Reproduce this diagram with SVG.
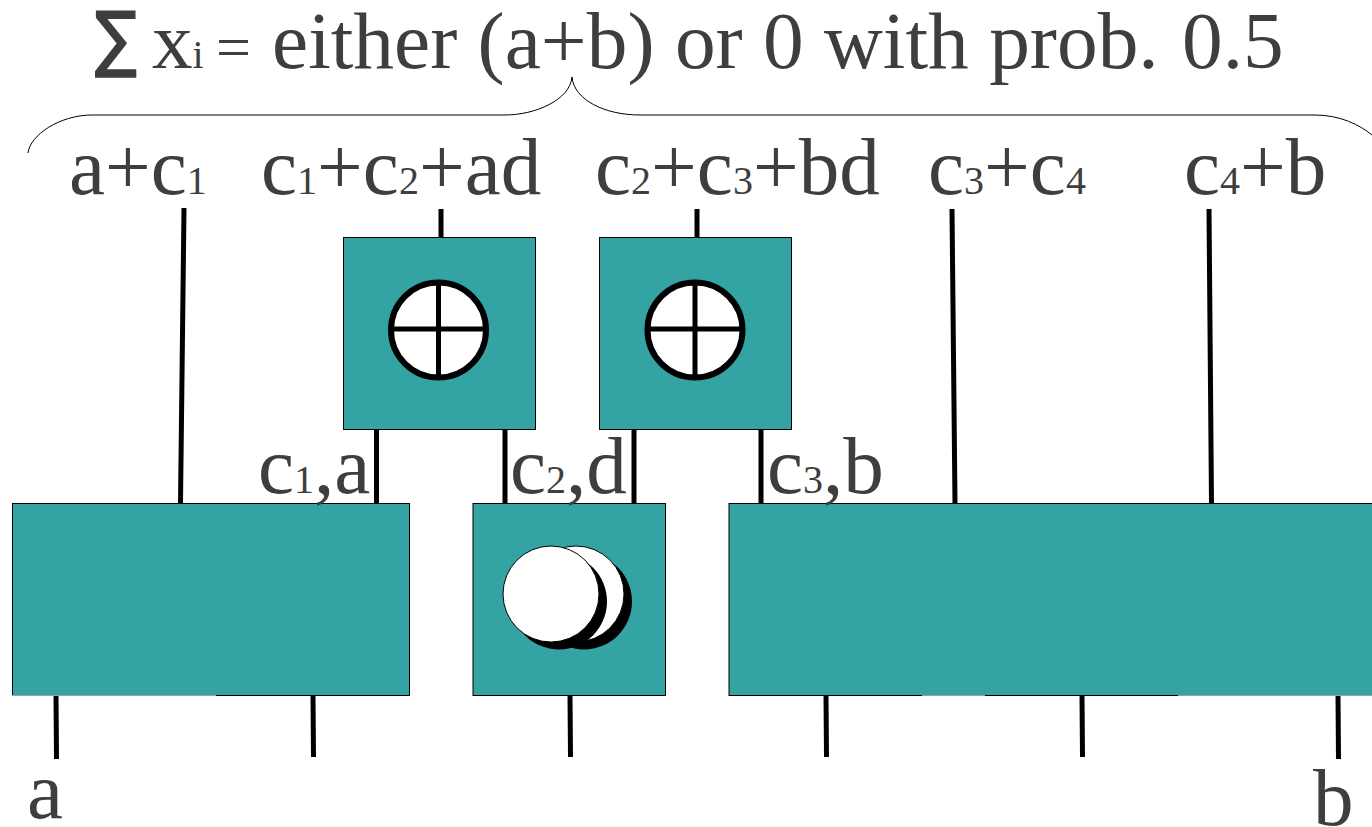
<svg xmlns="http://www.w3.org/2000/svg" width="1372" height="827" viewBox="0 0 1372 827">
<style>
.n{fill:#33a3a3;stroke:#000;stroke-width:1}
.t{font-family:"Liberation Serif","Times New Roman",serif;font-size:81.200px;fill:#3c3c3c}
.s{font-size:40px}
.w{stroke:#000;stroke-width:5;fill:none}
.c{fill:#fff;stroke:#000;stroke-width:6}
.d{fill:#fff;stroke:#000;stroke-width:1}
.e{stroke:#a0a0a0;stroke-width:1;fill:none}
</style>
<rect width="1372" height="827" fill="#fff"/>
<g id="connectors">
<path class="w" d="M184 208L180.500 503M441 209V237M697 209V237M952 209L955 503M1209 209L1211.500 503M376.500 429V503M505 429V503M634 429V503M761 429V503M56 695L56.500 759M313 695L313.500 757M570 695L570.500 757M826 695L826.500 757M1082 695L1082.500 757M1338 695L1338.500 759"/>
<path fill="none" stroke="#000" stroke-width="1" d="M28 153C30 135 60 115 92 115H505C535 115 570 100 572 77C574 100 605 115 640 115H1315C1340 115 1360 125 1372 135"/>
</g>
<g id="node-left"><rect class="n" x="12.500" y="503.500" width="397" height="192"/><path class="e" d="M12 695.500H216"/></g>
<g id="node-right"><rect class="n" x="729" y="503.500" width="660" height="192"/><path class="e" d="M922 695.500H985M1178 695.500H1372"/></g>
<g id="node-xor1"><rect class="n" x="343.500" y="237.500" width="192" height="192"/>
<circle class="c" cx="438.500" cy="330" r="47.500"/><path class="w" d="M438.500 282V376M390 329H486"/></g>
<g id="node-xor2"><rect class="n" x="599.500" y="237.500" width="192" height="192"/>
<circle class="c" cx="695" cy="330" r="47.500"/><path class="w" d="M695 282V376M647 329H743"/></g>
<g id="node-and"><rect class="n" x="473" y="503.500" width="192.500" height="192"/>
<circle cx="584" cy="601.500" r="48" fill="#000"/><circle class="d" cx="576" cy="594" r="48"/>
<circle cx="559" cy="601.500" r="48" fill="#000"/><circle class="d" cx="551" cy="594" r="48"/></g>
<g id="labels" opacity="0.99">
<text class="t" transform="translate(95 63) scale(1 1.160)" style="font-family:'DejaVu Sans',sans-serif;font-size:62px;stroke:#3c3c3c;stroke-width:1.500px">∑</text>
<text class="t" x="152" y="68">x<tspan class="s">i</tspan></text>
<text class="t" x="216" y="68" style="font-size:62px">=</text>
<text class="t" x="272" y="68" style="font-size:81.400px">either (a+b) or 0 with prob. <tspan dx="3">0.5</tspan></text>
<text class="t" x="69" y="194">a+c<tspan class="s">1</tspan></text>
<text class="t" x="261" y="194">c<tspan class="s">1</tspan>+c<tspan class="s">2</tspan>+ad</text>
<text class="t" x="595" y="194">c<tspan class="s">2</tspan>+c<tspan class="s">3</tspan>+bd</text>
<text class="t" x="928" y="194">c<tspan class="s">3</tspan>+c<tspan class="s">4</tspan></text>
<text class="t" x="1184" y="194">c<tspan class="s">4</tspan>+b</text>
<text class="t" x="258" y="493">c<tspan class="s">1</tspan>,a</text>
<text class="t" x="510" y="493">c<tspan class="s">2</tspan>,d</text>
<text class="t" x="767" y="493">c<tspan class="s">3</tspan>,b</text>
<text class="t" x="27" y="818">a</text>
<text class="t" x="1313" y="825">b</text>
</g>
</svg>
